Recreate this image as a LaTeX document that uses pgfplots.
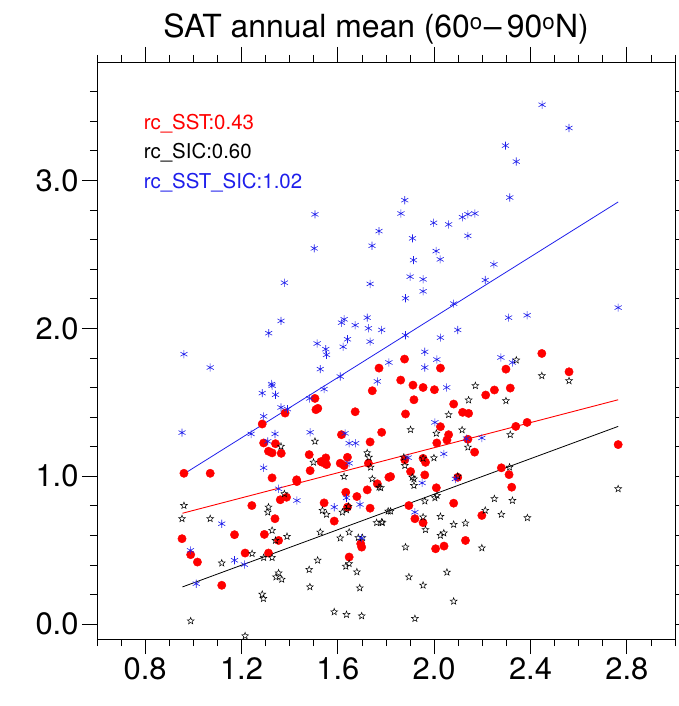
\documentclass[border=0pt]{standalone}
\usepackage{fontspec}
\setmainfont{TeX Gyre Heros}
\usepackage{pgfplots}
\pgfplotsset{compat=1.18}
\definecolor{ncred}{RGB}{255,0,0}
\definecolor{ncblue}{RGB}{30,30,235}

% open five-pointed star marker
\pgfdeclareplotmark{ostar}{%
  \pgfpathmoveto{\pgfpointpolar{90}{\pgfplotmarksize}}%
  \pgfpathlineto{\pgfpointpolar{126}{0.42\pgfplotmarksize}}%
  \pgfpathlineto{\pgfpointpolar{162}{\pgfplotmarksize}}%
  \pgfpathlineto{\pgfpointpolar{198}{0.42\pgfplotmarksize}}%
  \pgfpathlineto{\pgfpointpolar{234}{\pgfplotmarksize}}%
  \pgfpathlineto{\pgfpointpolar{270}{0.42\pgfplotmarksize}}%
  \pgfpathlineto{\pgfpointpolar{306}{\pgfplotmarksize}}%
  \pgfpathlineto{\pgfpointpolar{342}{0.42\pgfplotmarksize}}%
  \pgfpathlineto{\pgfpointpolar{18}{\pgfplotmarksize}}%
  \pgfpathlineto{\pgfpointpolar{54}{0.42\pgfplotmarksize}}%
  \pgfpathclose
  \pgfusepathqstroke}

\begin{document}
\begin{tikzpicture}
\useasboundingbox (-97bp,-67bp) rectangle (582bp,639bp);
\begin{axis}[
  scale only axis, width=578bp, height=577bp,
  xmin=0.6, xmax=3.0, ymin=-0.1, ymax=3.8,
  xtick={0.8,1.2,...,2.8},
  minor xtick={0.6,0.7,...,3.01},
  ytick={0,1,2,3},
  minor ytick={0.2,0.4,...,3.61},
  tick align=outside,
  major tick length=15bp, minor tick length=7bp,
  every tick/.style={black, line width=0.7pt},
  axis line style={line width=0.9pt},
  /pgf/number format/assume math mode=true,
  /pgf/number format/.cd, fixed, fixed zerofill, precision=1,
  /pgfplots/.cd,
  tick label style={font=\fontsize{31}{37}\selectfont},
  clip=false,
]
% SST (red dots)
\addplot[only marks, mark=*, mark size=4.2pt, color=ncred] coordinates {
(1.771,1.731) (1.743,1.578) (1.505,1.526) (1.509,1.45) (1.517,1.459)
(1.672,1.436) (1.381,1.427) (1.286,1.353) (1.782,1.297) (1.615,1.281)
(1.292,1.225) (1.341,1.22) (1.734,1.232) (1.312,1.169) (1.327,1.158)
(1.365,1.155) (1.481,1.146) (1.55,1.124) (1.536,1.094) (1.553,1.079)
(1.53,1.099) (1.61,1.088) (1.626,1.072) (1.64,1.128) (1.727,1.088)
(0.961,1.02) (1.07,1.02) (1.327,0.989) (1.429,0.976) (1.485,1.038)
(1.812,0.993) (2.447,1.83) (2.56,1.706) (2.298,1.724) (1.877,1.792)
(2.026,1.731) (1.861,1.65) (1.912,1.616) (1.954,1.6) (2.001,1.585)
(2.316,1.596) (2.25,1.583) (2.214,1.549) (1.916,1.517) (2.081,1.488)
(1.881,1.421) (2.118,1.432) (2.143,1.425) (2.026,1.335) (2.339,1.337)
(2.386,1.364) (2.06,1.281) (2.053,1.245) (2.011,1.225) (2.14,1.25)
(2.168,1.163) (2.764,1.214) (1.878,1.111) (1.954,1.121) (1.964,1.094)
(1.902,1.032) (1.819,0.998) (1.961,1.009) (2.098,0.993) (1.43,0.964)
(1.243,0.802) (1.361,0.841) (1.387,0.858) (1.339,0.713) (1.295,0.607)
(1.354,0.566) (1.171,0.605) (0.953,0.578) (0.989,0.47) (1.017,0.42)
(1.215,0.481) (1.312,0.481) (1.118,0.263) (1.543,0.82) (1.585,0.697)
(1.633,0.892) (1.64,0.791) (1.679,0.863) (1.734,0.784) (1.722,0.908)
(1.764,0.949) (1.647,0.454) (1.695,0.544) (1.699,0.521) (2.279,1.057)
(2.311,1.011) (2.322,0.926) (2.009,0.922) (1.895,0.802) (1.92,0.713)
(1.954,0.686) (2.081,0.818) (2.198,0.735) (2.006,0.51) (2.041,0.528)
(2.13,0.566)
};
% SIC (open black stars)
\addplot[only marks, mark=ostar, mark size=3.6pt, black, mark options={line width=0.5pt}] coordinates {
(1.505,1.236) (1.364,1.202) (1.499,1.094) (1.722,1.158) (1.729,1.128)
(1.736,1.061) (1.626,0.998) (1.743,0.982) (2.341,1.785) (2.447,1.679)
(2.56,1.645) (2.171,1.612) (2.143,1.515) (2.298,1.51) (2.06,1.416)
(1.902,1.315) (2.116,1.313) (2.009,1.29) (2.316,1.281) (2.14,1.196)
(1.999,1.124) (1.874,1.128) (1.878,1.072) (1.954,1.121) (1.909,0.993)
(2.098,1.0) (0.961,0.802) (0.953,0.713) (1.07,0.713) (0.989,0.022)
(1.215,-0.079) (1.118,0.413) (1.244,0.477) (1.312,0.791) (1.309,0.757)
(1.327,0.634) (1.341,0.566) (1.389,0.593) (1.292,0.45) (1.327,0.45)
(1.354,0.346) (1.343,0.319) (1.367,0.303) (1.286,0.202) (1.291,0.173)
(1.378,0.881) (1.527,0.622) (1.516,0.432) (1.481,0.369) (1.484,0.252)
(1.536,0.769) (1.553,0.742) (1.619,0.757) (1.636,0.773) (1.644,0.796)
(1.685,0.585) (1.702,0.585) (1.61,0.582) (1.647,0.622) (1.633,0.391)
(1.647,0.409) (1.679,0.353) (1.691,0.245) (1.585,0.083) (1.636,0.065)
(1.699,0.056) (1.771,0.926) (1.761,0.686) (1.785,0.686) (1.809,0.764)
(2.313,1.061) (1.916,0.982) (1.916,0.937) (1.778,0.922) (2.003,0.854)
(2.012,0.87) (1.961,0.832) (1.819,0.764) (1.782,0.69) (1.954,0.724)
(1.964,0.639) (2.026,0.728) (2.026,0.6) (2.04,0.616) (2.081,0.674)
(2.13,0.683) (2.212,0.769) (2.25,0.848) (2.279,0.742) (2.325,0.836)
(2.387,0.719) (2.764,0.915) (1.881,0.521) (2.198,0.515) (1.895,0.319)
(1.954,0.263) (2.053,0.351) (2.081,0.155) (1.92,0.038)
};
% SST_SIC (blue asterisks)
\addplot[only marks, mark=asterisk, mark size=4.1pt, color=ncblue, mark options={line width=0.6pt}] coordinates {
(1.505,2.77) (1.502,2.54) (1.771,2.657) (1.742,2.558) (1.378,2.308)
(1.734,2.30) (2.448,3.511) (2.56,3.354) (2.296,3.235) (2.341,3.127)
(1.878,2.866) (1.862,2.776) (2.314,2.884) (1.998,2.713) (2.06,2.702)
(2.117,2.751) (2.14,2.771) (2.169,2.776) (1.91,2.608) (2.14,2.625)
(2.008,2.522) (1.914,2.461) (2.025,2.466) (2.248,2.432) (1.90,2.349)
(1.954,2.331) (2.212,2.326) (1.954,2.25) (1.881,2.203) (2.081,2.167)
(0.961,1.825) (1.07,1.735) (1.364,2.05) (1.313,1.967) (1.615,2.038)
(1.626,2.061) (1.722,2.072) (1.727,2.0) (1.672,2.021) (1.782,1.989)
(1.734,1.91) (1.514,1.897) (1.55,1.859) (1.553,1.821) (1.64,1.926)
(1.622,1.875) (1.527,1.724) (1.543,1.589) (1.61,1.674) (1.764,1.641)
(1.812,1.769) (1.325,1.623) (1.327,1.612) (1.286,1.562) (1.341,1.551)
(1.483,1.526) (1.364,1.465) (1.391,1.454) (1.292,1.405) (0.953,1.295)
(1.24,1.286) (1.339,1.286) (1.485,1.297) (1.63,1.29) (1.647,1.223)
(1.674,1.223) (1.309,1.236) (1.292,1.057) (1.647,1.088) (1.881,1.953)
(2.098,1.989) (2.026,1.937) (2.309,2.072) (2.386,2.088) (2.764,2.14)
(1.961,1.841) (2.011,1.789) (1.961,1.735) (2.277,1.803) (2.325,1.769)
(2.052,1.6) (2.003,1.364) (2.134,1.254) (2.198,1.259) (2.04,1.151)
(1.892,1.126) (2.088,0.982) (1.354,0.915) (1.43,0.836) (1.118,0.679)
(0.988,0.499) (1.171,0.432) (1.212,0.403) (1.012,0.274) (1.636,0.854)
(1.585,0.791) (1.692,0.809) (1.699,0.582) (1.95,0.955) (1.92,0.757)
};
% regression lines
\addplot[ncred, line width=0.9pt] coordinates {(0.955,0.75) (2.764,1.517)};
\addplot[black, line width=0.8pt] coordinates {(0.955,0.252) (2.764,1.337)};
\addplot[ncblue, line width=0.8pt] coordinates {(0.961,1.016) (2.764,2.854)};

\node[anchor=base west, text=ncred, font=\fontsize{20.5}{24}\selectfont, inner sep=0pt] at (axis cs:0.794,3.345) {rc\_SST:0.43};
\node[anchor=base west, text=black, font=\fontsize{20.5}{24}\selectfont, inner sep=0pt] at (axis cs:0.794,3.149) {rc\_SIC:0.60};
\node[anchor=base west, text=ncblue, font=\fontsize{20.5}{24}\selectfont, inner sep=0pt] at (axis cs:0.794,2.947) {rc\_SST\_SIC:1.02};

\node[anchor=base, font=\fontsize{32}{38}\selectfont, inner sep=0pt] at ([yshift=24bp]rel axis cs:0.483,1) {SAT annual mean (60\textsuperscript{o}\kern1pt--\,90\textsuperscript{o}N)};
\end{axis}
\end{tikzpicture}
\end{document}
